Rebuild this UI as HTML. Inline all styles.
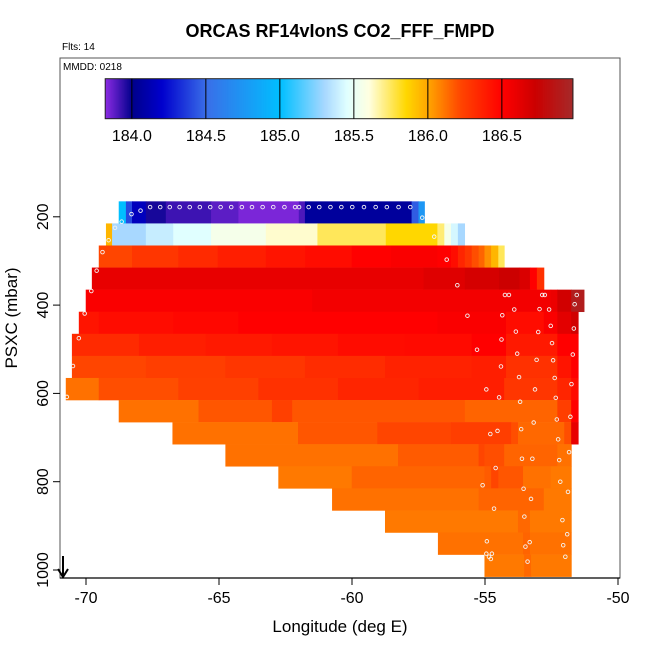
<!DOCTYPE html>
<html><head><meta charset="utf-8"><style>
body{margin:0;background:#fff;}
svg text{font-family:"Liberation Sans",Arial,sans-serif;}
</style></head><body>
<svg id="chart" width="650" height="650" viewBox="0 0 650 650" xmlns="http://www.w3.org/2000/svg">
<rect width="650" height="650" fill="#fff"/>
<g id="cells"></g>
<g id="pts"></g>
<g id="cbar"></g>
<rect x="60" y="58" width="560" height="520" fill="none" stroke="#555" stroke-width="1"/>
<g id="axes"></g>
<text x="340" y="37" text-anchor="middle" font-size="18" font-weight="bold">ORCAS RF14vIonS CO2_FFF_FMPD</text>
<text x="62" y="50" font-size="10">Flts: 14</text>
<text x="63" y="70" font-size="10">MMDD: 0218</text>
<text x="340" y="632" text-anchor="middle" font-size="17">Longitude (deg E)</text>
<text transform="translate(17,318) rotate(-90)" text-anchor="middle" font-size="17">PSXC (mbar)</text>
<g>
<line x1="63" y1="556" x2="63" y2="576" stroke="#000" stroke-width="2"/>
<path d="M58,569 L63,577 L68,569" fill="none" stroke="#000" stroke-width="2"/>
</g>
</svg>
<script>
const xTicks=[-70,-65,-60,-55,-50];
const yTicks=[200,400,600,800,1000];
const cbTicks=[184.0,184.5,185.0,185.5,186.0,186.5];
const cbRange=[183.82,186.98];
const bandTops=[165,215,265,315,365,415,465,515,565,615,665,715,765,815,865,915,965];
const bandHeight=50;
const band1=[[-68.77,-68.5,185.0],[-68.5,-68.27,184.4],[-68.27,-67.75,184.15],[-67.75,-67.0,183.97],[-67.0,-65.3,183.92],[-65.3,-64.27,183.88],[-64.27,-62.0,183.84],[-62.0,-61.77,183.9],[-61.77,-57.76,184.05],[-57.76,-57.5,184.45],[-57.5,-57.28,184.75]];
const band2=[[-69.25,-69.02,185.95],[-69.02,-67.75,185.3],[-67.75,-66.72,185.38],[-66.72,-65.3,185.45],[-65.3,-63.24,185.55],[-63.24,-61.3,185.62],[-61.3,-58.73,185.75],[-58.73,-56.79,185.85],[-56.79,-56.53,185.72],[-56.53,-56.28,185.55],[-56.28,-56.02,185.42],[-56.02,-55.77,185.3]];
const band3=[[-69.52,-68.27,186.22],[-68.27,-66.53,186.28],[-66.53,-65.05,186.33],[-65.05,-63.24,186.38],[-63.24,-61.76,186.42],[-61.76,-60.01,186.45],[-60.01,-58.53,186.5],[-58.53,-56.79,186.52],[-56.79,-56.28,186.5],[-56.28,-56.02,186.45],[-56.02,-55.76,186.35],[-55.76,-55.5,186.28],[-55.5,-55.24,186.2],[-55.24,-55.02,186.15],[-55.02,-54.77,186.05],[-54.77,-54.5,185.95],[-54.5,-54.28,185.75]];
const band4=[[-69.78,-57.31,186.6],[-57.31,-55.76,186.64],[-55.76,-54.47,186.68],[-54.47,-53.7,186.72],[-53.7,-53.31,186.66],[-53.31,-53.05,186.5],[-53.05,-52.79,186.3]];
const band5=[[-70.01,-61.5,186.52],[-61.5,-52.53,186.55],[-52.53,-52.28,186.58],[-52.28,-51.76,186.7],[-51.76,-51.28,186.9]];
const band6=[[-70.27,-69.52,186.42],[-69.52,-66.72,186.45],[-66.72,-64.27,186.47],[-64.27,-56.79,186.5],[-56.79,-54.21,186.52],[-54.21,-52.79,186.45],[-52.79,-52.28,186.52],[-52.28,-51.76,186.62],[-51.76,-51.5,186.7]];
const band7=[[-70.53,-68.01,186.33],[-68.01,-65.5,186.38],[-65.5,-63.01,186.4],[-63.01,-60.53,186.42],[-60.53,-58.02,186.45],[-58.02,-55.5,186.46],[-55.5,-54.21,186.5],[-54.21,-52.28,186.4],[-52.28,-51.5,186.5]];
const band8=[[-70.53,-67.75,186.22],[-67.75,-64.76,186.25],[-64.76,-61.77,186.28],[-61.77,-58.76,186.32],[-58.76,-55.5,186.36],[-55.5,-54.21,186.38],[-54.21,-52.28,186.3],[-52.28,-51.76,186.42],[-51.76,-51.5,186.5]];
const band9=[[-70.76,-69.52,186.12],[-69.52,-66.53,186.2],[-66.53,-63.52,186.24],[-63.52,-60.53,186.3],[-60.53,-57.5,186.35],[-57.5,-54.28,186.38],[-54.28,-52.28,186.28],[-52.28,-51.76,186.35],[-51.76,-51.5,186.45]];
const band10=[[-68.77,-65.77,186.12],[-65.77,-63.01,186.18],[-63.01,-62.25,186.24],[-62.25,-55.76,186.18],[-55.76,-52.28,186.15],[-52.28,-51.76,186.25],[-51.76,-51.5,186.5]];
const band11=[[-66.75,-62.03,186.12],[-62.03,-59.05,186.18],[-59.05,-56.28,186.22],[-56.28,-54.02,186.25],[-54.02,-53.76,186.2],[-53.76,-52.02,186.14],[-52.02,-51.76,186.2],[-51.76,-51.5,186.6]];
const band12=[[-64.76,-58.27,186.12],[-58.27,-55.24,186.17],[-55.24,-55.02,186.22],[-55.02,-54.28,186.2],[-54.28,-52.28,186.15],[-52.28,-51.76,186.12]];
const band13=[[-62.77,-60.01,186.1],[-60.01,-55.02,186.15],[-55.02,-54.77,186.17],[-54.77,-54.5,186.22],[-54.5,-53.57,186.18],[-53.57,-52.53,186.12],[-52.53,-51.76,186.1]];
const band14=[[-60.75,-55.24,186.12],[-55.24,-52.79,186.15],[-52.79,-51.76,186.1]];
const band15=[[-58.76,-53.76,186.1],[-53.76,-53.31,186.14],[-53.31,-51.76,186.1]];
const band16=[[-56.77,-53.57,186.12],[-53.57,-53.31,186.15],[-53.31,-51.76,186.12]];
const band17=[[-55.02,-53.53,186.1],[-53.53,-53.27,186.14],[-53.27,-51.76,186.1]];
const bands=[band1,band2,band3,band4,band5,band6,band7,band8,band9,band10,band11,band12,band13,band14,band15,band16,band17];
const ptLon=[-67.59,-67.21,-66.85,-66.48,-66.10,-65.72,-65.33,-64.94,-64.54,-64.14,-63.76,-63.36,-62.96,-62.54,-62.14,-61.99,-61.63,-61.23,-60.81,-60.40,-59.99,-59.55,-59.11,-58.69,-58.25,-57.81,
-68.29,-67.95,-68.66,-68.91,-69.15,-69.38,-57.36,-56.91,-56.44,-69.6,-56.04,-69.8,-54.25,-54.1,-52.85,-52.75,-51.55,-51.63,-70.05,-55.66,-54.35,-53.90,-52.95,-52.59,-52.53,-51.66,-53.84,-53.0,-70.27,-54.38,-52.48,-55.3,-53.79,-51.70,-53.06,-52.44,-70.49,-54.4,-53.72,-52.38,-51.75,-54.95,-53.12,-54.47,-52.34,-70.72,-53.68,
-52.30,-51.79,-53.17,-54.8,-54.53,-53.64,-52.25,-51.84,-53.61,-53.22,-52.21,-54.6,-52.17,-55.09,-53.55,-51.88,-53.27,-54.66,-53.52,-52.09,-51.91,-54.93,-53.32,-53.48,-52.06,-54.95,-54.74,-54.85,-54.78,-53.4,-51.98];
const ptP=[178,178,178,178,178,178,178,178,178,178,178,178,178,178,178,178,178,178,178,178,178,178,178,178,178,178,
194,186,211,225,253,280,202,245,297,322,355,368,377,377,377,377,377,398,419,424,423,410,409,410,447,453,460,461,475,478,486,501,510,512,524,525,538,539,563,565,579,591,591,609,610,608,619,
659,653,666,692,685,681,704,733,748,748,751,769,800,808,816,823,839,861,879,887,919,935,937,947,944,963,963,970,975,981,970];

const X=lon=>86+(lon+70)*26.6;
const Y=p=>570-(1000-p)*0.4415;
const CB=v=>105.2+(v-cbRange[0])*(572.9-105.2)/(cbRange[1]-cbRange[0]);
const stops=[[183.82,[138,43,226]],[184.0,[0,0,139]],[184.2,[0,0,205]],[184.5,[58,110,232]],[185.0,[0,191,255]],[185.3,[168,216,255]],[185.45,[224,255,255]],[185.6,[255,255,224]],[185.85,[255,215,0]],[186.0,[255,165,0]],[186.22,[255,69,0]],[186.5,[255,0,0]],[186.72,[204,0,0]],[186.98,[165,42,42]]];
function col(v){
  if(v<=stops[0][0]) return 'rgb('+stops[0][1]+')';
  for(let i=1;i<stops.length;i++){
    if(v<=stops[i][0]){const a=stops[i-1],b=stops[i];const t=(v-a[0])/(b[0]-a[0]);
      return 'rgb('+a[1].map((c,k)=>Math.round(c+(b[1][k]-c)*t)).join(',')+')';}
  }
  return 'rgb('+stops[stops.length-1][1]+')';
}
const NS='http://www.w3.org/2000/svg';
function mk(tag,attrs,parent){const e=document.createElementNS(NS,tag);for(const k in attrs)e.setAttribute(k,attrs[k]);parent.appendChild(e);return e;}
const cells=document.getElementById('cells');
bands.forEach((segs,i)=>{
  const y0=Y(bandTops[i]),y1=Y(bandTops[i]+bandHeight);
  segs.forEach(s=>{
    const r=mk('rect',{x:X(s[0]),y:y0,width:X(s[1])-X(s[0])+0.5,height:y1-y0+0.3,fill:col(s[2])},cells);
    
    
  });
});
const pts=document.getElementById('pts');
ptLon.forEach((lo,i)=>{
  const c=mk('circle',{cx:X(lo),cy:Y(ptP[i]),r:1.8,fill:'none',stroke:'#f4f4f4','stroke-width':0.9},pts);
  
  
});
const cb=document.getElementById('cbar');
for(let x=105.2;x<572.9;x+=1){
  const v=cbRange[0]+(x-105.2)*(cbRange[1]-cbRange[0])/(572.9-105.2);
  mk('rect',{x:x,y:78.7,width:1.3,height:40,fill:col(v)},cb);
}
mk('rect',{x:105.2,y:78.7,width:467.7,height:40,fill:'none',stroke:'#222','stroke-width':1},cb);
cbTicks.forEach(t=>{
  const l=mk('line',{x1:CB(t),x2:CB(t),y1:78.7,y2:118.7,stroke:'#000','stroke-width':1},cb);
  
  
  const tx=mk('text',{x:CB(t),y:141,'text-anchor':'middle','font-size':16},cb);
  tx.textContent=t.toFixed(1);
  
  
});
const ax=document.getElementById('axes');
mk('line',{x1:60,x2:620,y1:578,y2:578,stroke:'#000','stroke-width':1.2},ax);
xTicks.forEach(t=>{
  mk('line',{x1:X(t),x2:X(t),y1:578,y2:585,stroke:'#000'},ax);
  const tx=mk('text',{x:X(t),y:603,'text-anchor':'middle','font-size':16},ax);
  tx.textContent=String(t);
  
  
});
yTicks.forEach(t=>{
  mk('line',{x1:53,x2:60,y1:Y(t),y2:Y(t),stroke:'#000'},ax);
  const tx=mk('text',{transform:'translate(48,'+Y(t)+') rotate(-90)','text-anchor':'middle','font-size':16},ax);
  tx.textContent=String(t);
  
  
});
</script>
</body></html>
